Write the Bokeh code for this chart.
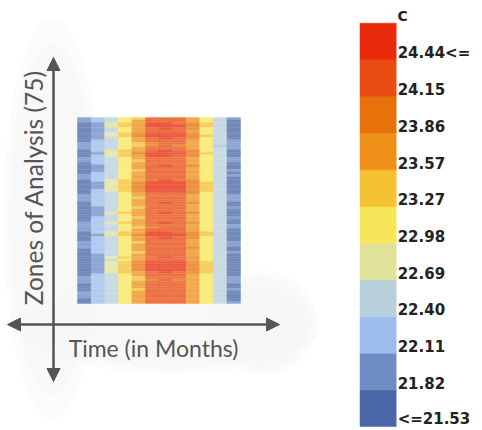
import numpy as np
from bokeh.plotting import figure
from bokeh.models import Range1d, ColumnDataSource, Arrow, NormalHead
from bokeh.core.properties import value
from bokeh.embed import file_html
from bokeh.resources import INLINE

# ---------------- data ----------------
months = list(range(1, 13))
zones = list(range(1, 76))  # 75 zones, top to bottom

temps = [
    [21.85, 22.15, 22.50, 23.10, 23.55, 24.20, 24.30, 24.25, 23.80, 23.10, 22.45, 21.85],
    [21.90, 22.20, 22.60, 23.20, 23.65, 24.25, 24.35, 24.30, 23.85, 23.15, 22.50, 21.80],
    [21.80, 22.10, 22.75, 23.30, 23.80, 24.45, 24.50, 24.40, 23.95, 23.30, 22.55, 21.75],
    [21.70, 22.10, 22.70, 23.35, 23.85, 24.50, 24.55, 24.45, 24.00, 23.35, 22.60, 21.70],
    [21.60, 22.05, 22.55, 23.15, 23.70, 24.35, 24.45, 24.35, 23.90, 23.15, 22.45, 21.75],
    [21.55, 22.05, 22.45, 23.05, 23.60, 24.25, 24.40, 24.30, 23.85, 23.10, 22.40, 21.80],
    [21.60, 22.10, 22.80, 23.40, 23.90, 24.45, 24.55, 24.45, 24.00, 23.25, 22.50, 21.70],
    [21.55, 22.05, 22.85, 23.45, 23.95, 24.50, 24.60, 24.50, 24.05, 23.30, 22.55, 21.65],
    [21.60, 22.10, 22.60, 23.25, 23.75, 24.40, 24.50, 24.40, 23.95, 23.20, 22.50, 21.75],
    [21.80, 22.15, 22.50, 23.10, 23.60, 24.20, 24.35, 24.25, 23.80, 23.10, 22.45, 21.85],
    [21.90, 22.25, 22.45, 23.05, 23.50, 24.10, 24.25, 24.15, 23.75, 23.05, 22.40, 21.90],
    [21.95, 22.30, 22.40, 23.00, 23.45, 24.05, 24.20, 24.10, 23.70, 23.00, 22.35, 21.95],
    [21.85, 22.20, 22.55, 23.15, 23.60, 24.20, 24.30, 24.20, 23.80, 23.10, 22.45, 21.85],
    [21.80, 22.15, 22.70, 23.30, 23.80, 24.40, 24.50, 24.40, 23.95, 23.25, 22.50, 21.80],
    [21.70, 22.10, 22.85, 23.45, 23.95, 24.50, 24.55, 24.45, 24.05, 23.35, 22.55, 21.75],
    [21.80, 22.15, 22.75, 23.35, 23.85, 24.45, 24.50, 24.40, 24.00, 23.25, 22.50, 21.80],
    [21.90, 22.20, 22.50, 23.10, 23.60, 24.20, 24.30, 24.25, 23.80, 23.10, 22.45, 21.85],
    [21.85, 22.25, 22.45, 23.05, 23.55, 24.15, 24.25, 24.20, 23.80, 23.05, 22.40, 21.90],
    [21.60, 22.15, 22.55, 23.15, 23.65, 24.25, 24.35, 24.25, 23.85, 23.10, 22.45, 21.80],
    [21.55, 22.10, 22.65, 23.25, 23.75, 24.35, 24.45, 24.35, 23.90, 23.20, 22.50, 21.75],
    [21.55, 22.05, 22.50, 23.10, 23.60, 24.25, 24.35, 24.25, 23.85, 23.10, 22.45, 21.80],
    [21.60, 22.10, 22.45, 23.05, 23.55, 24.15, 24.30, 24.20, 23.80, 23.05, 22.40, 21.85],
    [21.70, 22.15, 22.60, 23.20, 23.70, 24.30, 24.40, 24.30, 23.85, 23.15, 22.45, 21.80],
    [21.85, 22.20, 22.50, 23.10, 23.60, 24.20, 24.30, 24.20, 23.80, 23.10, 22.40, 21.85],
    [21.90, 22.25, 22.55, 23.15, 23.65, 24.25, 24.35, 24.25, 23.85, 23.15, 22.45, 21.80],
    [21.80, 22.15, 22.70, 23.30, 23.80, 24.40, 24.45, 24.40, 23.95, 23.25, 22.50, 21.75],
    [21.60, 22.10, 22.80, 23.40, 23.90, 24.45, 24.55, 24.45, 24.00, 23.35, 22.55, 21.70],
    [21.55, 22.05, 22.85, 23.45, 23.95, 24.50, 24.60, 24.50, 24.05, 23.40, 22.60, 21.65],
    [21.60, 22.10, 22.80, 23.45, 24.00, 24.55, 24.60, 24.55, 24.10, 23.45, 22.60, 21.70],
    [21.70, 22.15, 22.75, 23.35, 23.90, 24.45, 24.55, 24.45, 24.00, 23.35, 22.55, 21.75],
    [21.80, 22.20, 22.60, 23.20, 23.70, 24.30, 24.40, 24.30, 23.90, 23.20, 22.50, 21.80],
    [21.85, 22.25, 22.50, 23.10, 23.60, 24.20, 24.30, 24.20, 23.80, 23.10, 22.45, 21.85],
    [21.90, 22.30, 22.45, 23.05, 23.55, 24.15, 24.25, 24.15, 23.75, 23.05, 22.40, 21.90],
    [21.85, 22.25, 22.55, 23.15, 23.65, 24.25, 24.35, 24.25, 23.85, 23.15, 22.45, 21.85],
    [21.80, 22.20, 22.65, 23.25, 23.75, 24.35, 24.45, 24.35, 23.90, 23.20, 22.50, 21.80],
    [21.70, 22.15, 22.55, 23.15, 23.65, 24.25, 24.35, 24.25, 23.85, 23.15, 22.45, 21.80],
    [21.60, 22.10, 22.45, 23.05, 23.55, 24.15, 24.30, 24.20, 23.80, 23.05, 22.40, 21.85],
    [21.60, 22.10, 22.60, 23.20, 23.70, 24.30, 24.40, 24.30, 23.85, 23.15, 22.45, 21.80],
    [21.55, 22.05, 22.70, 23.30, 23.80, 24.40, 24.50, 24.40, 23.95, 23.25, 22.50, 21.75],
    [21.60, 22.10, 22.55, 23.15, 23.65, 24.25, 24.35, 24.25, 23.85, 23.10, 22.45, 21.80],
    [21.70, 22.15, 22.45, 23.05, 23.55, 24.15, 24.25, 24.20, 23.80, 23.05, 22.40, 21.85],
    [21.80, 22.20, 22.60, 23.20, 23.70, 24.30, 24.40, 24.30, 23.85, 23.15, 22.45, 21.80],
    [21.85, 22.25, 22.70, 23.30, 23.80, 24.40, 24.45, 24.35, 23.90, 23.20, 22.50, 21.75],
    [21.90, 22.25, 22.50, 23.10, 23.60, 24.20, 24.30, 24.20, 23.80, 23.10, 22.45, 21.85],
    [21.95, 22.30, 22.45, 23.05, 23.50, 24.10, 24.25, 24.15, 23.75, 23.05, 22.40, 21.90],
    [21.85, 22.20, 22.60, 23.20, 23.70, 24.30, 24.40, 24.30, 23.85, 23.15, 22.45, 21.80],
    [21.70, 22.15, 22.75, 23.35, 23.85, 24.45, 24.50, 24.40, 23.95, 23.30, 22.55, 21.75],
    [21.60, 22.10, 22.80, 23.40, 23.90, 24.50, 24.55, 24.45, 24.00, 23.35, 22.55, 21.70],
    [21.70, 22.15, 22.65, 23.25, 23.75, 24.35, 24.45, 24.35, 23.90, 23.20, 22.50, 21.75],
    [21.80, 22.20, 22.50, 23.10, 23.60, 24.20, 24.30, 24.20, 23.80, 23.10, 22.45, 21.80],
    [21.85, 22.25, 22.45, 23.05, 23.55, 24.15, 24.25, 24.15, 23.75, 23.05, 22.40, 21.85],
    [21.90, 22.25, 22.55, 23.15, 23.65, 24.25, 24.35, 24.25, 23.85, 23.10, 22.45, 21.85],
    [21.85, 22.20, 22.65, 23.25, 23.75, 24.35, 24.40, 24.30, 23.90, 23.20, 22.50, 21.80],
    [21.80, 22.15, 22.55, 23.15, 23.65, 24.25, 24.35, 24.25, 23.85, 23.15, 22.45, 21.80],
    [21.70, 22.15, 22.45, 23.05, 23.55, 24.15, 24.30, 24.20, 23.80, 23.05, 22.40, 21.85],
    [21.70, 22.10, 22.60, 23.20, 23.70, 24.30, 24.40, 24.30, 23.85, 23.15, 22.45, 21.80],
    [21.60, 22.10, 22.70, 23.30, 23.80, 24.40, 24.50, 24.40, 23.95, 23.25, 22.50, 21.75],
    [21.60, 22.05, 22.55, 23.15, 23.65, 24.25, 24.35, 24.25, 23.85, 23.15, 22.45, 21.80],
    [21.55, 22.05, 22.75, 23.40, 23.90, 24.45, 24.55, 24.45, 24.00, 23.35, 22.55, 21.70],
    [21.55, 22.00, 22.90, 23.50, 24.00, 24.55, 24.60, 24.55, 24.10, 23.45, 22.60, 21.65],
    [21.55, 22.00, 22.95, 23.55, 24.05, 24.60, 24.65, 24.55, 24.10, 23.50, 22.65, 21.65],
    [21.60, 22.05, 22.85, 23.45, 23.95, 24.50, 24.60, 24.50, 24.05, 23.40, 22.60, 21.70],
    [21.70, 22.10, 22.70, 23.30, 23.80, 24.40, 24.50, 24.40, 23.95, 23.30, 22.55, 21.75],
    [21.80, 22.20, 22.55, 23.15, 23.65, 24.25, 24.35, 24.25, 23.85, 23.20, 22.50, 21.80],
    [21.90, 22.30, 22.45, 23.05, 23.55, 24.15, 24.25, 24.15, 23.80, 23.10, 22.45, 21.85],
    [21.95, 22.35, 22.40, 23.00, 23.50, 24.10, 24.20, 24.10, 23.75, 23.05, 22.40, 21.90],
    [21.85, 22.25, 22.50, 23.10, 23.60, 24.20, 24.30, 24.20, 23.80, 23.10, 22.45, 21.85],
    [21.70, 22.20, 22.60, 23.20, 23.70, 24.30, 24.35, 24.25, 23.85, 23.15, 22.45, 21.80],
    [21.60, 22.15, 22.55, 23.15, 23.65, 24.25, 24.35, 24.25, 23.85, 23.10, 22.45, 21.80],
    [21.70, 22.20, 22.45, 23.05, 23.55, 24.15, 24.25, 24.20, 23.80, 23.05, 22.40, 21.85],
    [21.85, 22.25, 22.50, 23.10, 23.60, 24.20, 24.30, 24.20, 23.80, 23.10, 22.45, 21.80],
    [21.90, 22.30, 22.55, 23.15, 23.65, 24.25, 24.35, 24.25, 23.85, 23.15, 22.45, 21.80],
    [21.85, 22.25, 22.60, 23.20, 23.70, 24.30, 24.40, 24.30, 23.85, 23.15, 22.50, 21.75],
    [21.80, 22.20, 22.55, 23.15, 23.65, 24.25, 24.35, 24.25, 23.85, 23.15, 22.45, 21.80],
    [21.70, 22.15, 22.50, 23.10, 23.60, 24.20, 24.30, 24.20, 23.80, 23.10, 22.45, 21.85],
]

# legend bins, bottom to top
legend_labels = ["<=21.53", "21.82", "22.11", "22.40", "22.69", "22.98",
                 "23.27", "23.57", "23.86", "24.15", "24.44<="]
legend_colors = ["#4a68a8", "#6e8cc4", "#9cbcec", "#b8d0dc", "#e0e29a", "#f8e65a",
                 "#f5c232", "#ee9018", "#e8720a", "#e84c10", "#e82a0a"]
thresholds = [21.82, 22.11, 22.40, 22.69, 22.98, 23.27, 23.57, 23.86, 24.15, 24.44]
legend_unit = "C"

x_label = "Time (in Months)"
y_label = "Zones of Analysis (75)"

# ---------------- helpers ----------------
W, H = 482, 430


def Y(px):
    return H - px


def wash(hexcol, a):
    h = hexcol.lstrip("#")
    r, g, b = (int(h[i:i + 2], 16) for i in (0, 2, 4))
    r, g, b = (round(a * c + (1 - a) * 255) for c in (r, g, b))
    return "#%02x%02x%02x" % (r, g, b)


p = figure(width=W, height=H, x_range=Range1d(0, W), y_range=Range1d(0, H),
           output_backend="svg", toolbar_location=None,
           x_axis_type=None, y_axis_type=None, min_border=0,
           outline_line_color=None, background_fill_color="white",
           border_fill_color="white")
p.grid.visible = False

# very soft background glow
for a, s in [(0.45, 1.0), (0.5, 0.88)]:
    p.ellipse(x=[52], y=[Y(218)], width=[98 * s], height=[400 * s],
              fill_color="#f6f6f6", fill_alpha=a, line_color=None)
    p.ellipse(x=[170], y=[Y(325)], width=[300 * s], height=[96 * s],
              fill_color="#f6f6f6", fill_alpha=a, line_color=None)
    p.ellipse(x=[262], y=[Y(322)], width=[108 * s], height=[104 * s],
              fill_color="#f6f6f6", fill_alpha=a, line_color=None)

# heatmap
xs, ys, cols, vals = [], [], [], []
for zi, z in enumerate(zones):
    for mi, m in enumerate(months):
        v = temps[zi][mi]
        xs.append(m)
        ys.append(z)
        vals.append(v)
        cols.append(wash(legend_colors[int(np.digitize(v, thresholds))], 0.78))
src = ColumnDataSource(dict(m=xs, z=ys, v=vals, color=cols))
hm = p.subplot(x_source=Range1d(0.5, 12.5), y_source=Range1d(0.5, 75.5),
               x_target=Range1d(77, 240), y_target=Range1d(Y(117), Y(303)))
hm.rect(x="m", y="z", width=1, height=1, source=src, fill_color="color",
        line_color="color", line_width=0.4)

# axes arrows
AX = "#555555"
p.add_layout(Arrow(x_start=53, y_start=Y(381), x_end=53, y_end=Y(57),
                   start=NormalHead(size=13, fill_color=AX, line_color=AX),
                   end=NormalHead(size=13, fill_color=AX, line_color=AX),
                   line_color=AX, line_width=2.5))
p.add_layout(Arrow(x_start=7, y_start=Y(324), x_end=279, y_end=Y(324),
                   start=NormalHead(size=13, fill_color=AX, line_color=AX),
                   end=NormalHead(size=13, fill_color=AX, line_color=AX),
                   line_color=AX, line_width=2.5))

p.text(x=[153], y=[Y(347)], text=[x_label], text_font=value("Lato"),
       text_font_size="23px", text_color=AX, text_align="center",
       text_baseline="middle")
p.text(x=[33], y=[Y(187)], text=[y_label], text_font=value("Lato"),
       text_font_size="24.5px", text_color=AX, text_align="center",
       text_baseline="middle", angle=np.pi / 2)

# legend
lg = p.subplot(x_source=Range1d(0, 1), y_source=Range1d(0, 11),
               x_target=Range1d(359.5, 395.7), y_target=Range1d(Y(426), Y(22.7)))
idx = list(range(len(legend_labels)))
lg.rect(x=[0.5] * len(idx), y=[i + 0.5 for i in idx], width=1, height=1,
        fill_color=legend_colors, line_color=legend_colors, line_width=0.5)
lg.text(x=[1.04] * len(idx), y=[i + 0.2 for i in idx], text=legend_labels,
        text_font=value("DejaVu Sans"), text_font_style="bold",
        text_font_size="15px", text_color="#222222", text_baseline="middle")
p.text(x=[397], y=[Y(15)], text=[legend_unit], text_font=value("DejaVu Sans"),
       text_font_style="bold", text_font_size="14px", text_color="#222222",
       text_baseline="middle")

open("out.html", "w").write(file_html(p, INLINE))
